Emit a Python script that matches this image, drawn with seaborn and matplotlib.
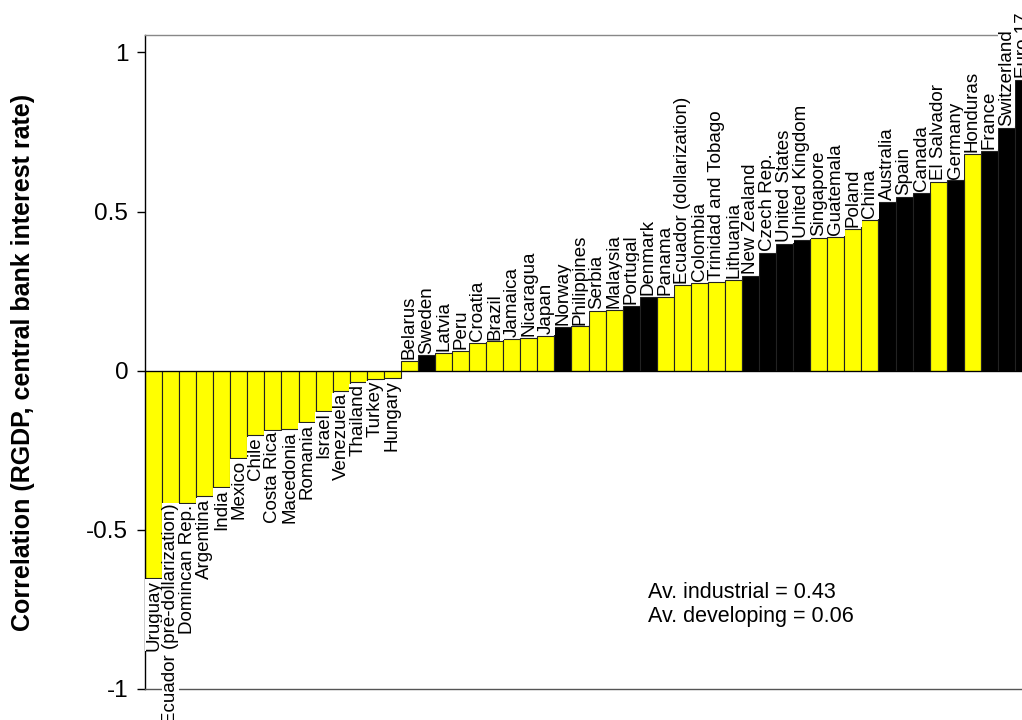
import pandas as pd
import seaborn as sns
import matplotlib.pyplot as plt

# Countries, sorted by correlation
countries = [
    'Uruguay', 'Ecuador (pre-dollarization)', 'Domincan Rep.', 'Argentina', 'India',
    'Mexico', 'Chile', 'Costa Rica', 'Macedonia', 'Romania', 'Israel', 'Venezuela',
    'Thailand', 'Turkey', 'Hungary', 'Belarus', 'Sweden', 'Latvia', 'Peru', 'Croatia',
    'Brazil', 'Jamaica', 'Nicaragua', 'Japan', 'Norway', 'Philippines', 'Serbia',
    'Malaysia', 'Portugal', 'Denmark', 'Panama', 'Ecuador (dollarization)', 'Colombia',
    'Trinidad and Tobago', 'Lithuania', 'New Zealand', 'Czech Rep.', 'United States',
    'United Kingdom', 'Singapore', 'Guatemala', 'Poland', 'China', 'Australia', 'Spain',
    'Canada', 'El Salvador', 'Germany', 'Honduras', 'France', 'Switzerland', 'Euro 17',
]

# Correlation (RGDP, central bank interest rate)
corr = [
    -0.651, -0.472, -0.415, -0.395, -0.365, -0.273, -0.202, -0.186, -0.184, -0.160,
    -0.126, -0.064, -0.036, -0.026, -0.024, 0.031, 0.048, 0.055, 0.062, 0.087,
    0.092, 0.100, 0.103, 0.108, 0.137, 0.139, 0.187, 0.192, 0.203, 0.232,
    0.233, 0.268, 0.275, 0.279, 0.285, 0.299, 0.370, 0.398, 0.410, 0.417,
    0.420, 0.446, 0.473, 0.530, 0.547, 0.560, 0.593, 0.598, 0.680, 0.692,
    0.763, 0.914,
]

industrial = ['Sweden', 'Norway', 'Portugal', 'Denmark', 'New Zealand', 'Czech Rep.',
              'United States', 'United Kingdom', 'Australia', 'Spain', 'Canada',
              'Germany', 'France', 'Switzerland', 'Euro 17']

df = pd.DataFrame({'country': countries, 'corr': corr})
df['group'] = ['industrial' if c in industrial else 'developing' for c in df['country']]

sns.set_style('white')
plt.rcParams['font.family'] = ['Liberation Sans', 'DejaVu Sans']
plt.rcParams['text.color'] = 'black'
plt.rcParams['axes.labelcolor'] = 'black'
plt.rcParams['ytick.color'] = 'black'

fig = plt.figure(figsize=(10.22, 7.2), dpi=100)
ax = fig.add_axes([0.1419, 0.0431, 0.8679, 0.9083])

sns.barplot(
    data=df, x='country', y='corr', hue='group',
    palette={'industrial': 'black', 'developing': '#ffff00'},
    dodge=False, width=1, saturation=1,
    edgecolor='#222222', linewidth=0.8, legend=False, ax=ax,
)

ax.axhline(0, color='black', lw=0.9, zorder=3)

# Country labels at the end of each bar
for i, (name, v) in enumerate(zip(countries, corr)):
    if v >= 0:
        y, va = v + 0.006, 'bottom'
    else:
        y, va = v - 0.006, 'top'
    if name == 'Ecuador (pre-dollarization)':
        y = v + 0.055  # long label sits a bit higher in the original
    ax.text(i, y, name, rotation=90, ha='center', va=va,
            fontsize=13.5, clip_on=False, zorder=6,
            bbox=dict(facecolor='white', edgecolor='none', pad=0.3))

ax.text(0.567, 0.129, 'Av. industrial = 0.43\nAv. developing = 0.06',
        transform=ax.transAxes, ha='left', va='center', fontsize=15.5)

ax.set_xlim(-0.5, len(countries) - 0.5)
ax.set_ylim(-1, 1.055)
ax.set_yticks([-1, -0.5, 0, 0.5, 1])
ax.set_yticklabels(['-1', '-0.5', '0', '0.5', '1'])
ax.tick_params(axis='y', left=True, direction='out', length=6, width=1,
               labelsize=17.5, pad=6, color='black', labelcolor='black')
ax.tick_params(axis='x', bottom=False, labelbottom=False)
ax.set_xlabel('')
ax.set_ylabel('Correlation (RGDP, central bank interest rate)',
              fontsize=18, fontweight='bold', color='black')
ax.yaxis.set_label_coords(-0.124, 0.5)

ax.spines['left'].set_color('black')
ax.spines['bottom'].set_color('#555555')
ax.spines['top'].set_color('#888888')
ax.spines['right'].set_visible(False)
for s in ax.spines.values():
    s.set_linewidth(1)

fig.savefig('out.png', dpi=100)
